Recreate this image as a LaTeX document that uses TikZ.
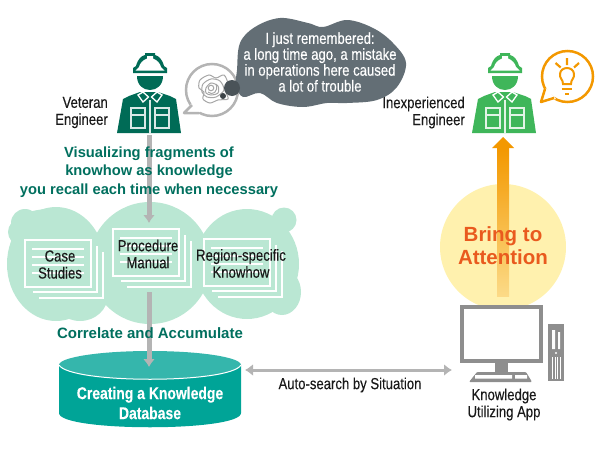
\documentclass[tikz,border=0pt]{standalone}
\usepackage{fontspec}
\usepackage{tikz}
\usetikzlibrary{arrows.meta}
\setmainfont{Liberation Sans}
\newfontfamily\condfont[FakeStretch=0.82,FakeBold=0.25]{Liberation Sans}
\definecolor{vetgreen}{HTML}{006B56}
\definecolor{newgreen}{HTML}{3FB65A}
\definecolor{mintcloud}{HTML}{BAE7D3}
\definecolor{slatecloud}{HTML}{636E75}
\definecolor{linegray}{HTML}{B4B4B4}
\definecolor{pcgray}{HTML}{8E8E8E}
\definecolor{alertorange}{HTML}{F39800}
\definecolor{glowyellow}{HTML}{FFF1AE}
\definecolor{dbside}{HTML}{00A497}
\definecolor{dbtopc}{HTML}{35B6AC}
\definecolor{heading}{HTML}{006F5E}
\definecolor{bringred}{HTML}{E95A1E}
\tikzset{
  namelabel/.style={font=\condfont\fontsize{16}{17}\selectfont,align=center,inner sep=0,text=black!90},
  bluntlabel/.style={font=\bfseries\fontsize{14.7}{18.5}\selectfont,align=center,inner sep=0,text=heading},
  grayarrow/.style={>={Latex[width=12,length=8]},->,line width=5,draw=linegray},
  sheet/.style={draw=white,line width=2,fill=none},
  scribble/.style={draw=gray!70,line width=1},
}
\begin{document}
\begin{tikzpicture}[x=1pt,y=-1pt]
\useasboundingbox (0,0) rectangle (600,450);

% green cloud behind the documents
\fill[mintcloud] (56,264) ellipse (49 and 57);
\fill[mintcloud] (150,263) circle (61);
\fill[mintcloud] (247,264) ellipse (52 and 55);
\fill[mintcloud] (50,232) ellipse (42 and 23);
\fill[mintcloud] (25,223) circle (14);
\fill[mintcloud] (284,220) circle (12.5);
\fill[mintcloud] (282,292) ellipse (19 and 23);
\fill[mintcloud] (80,295) ellipse (28 and 26);

% document stacks
\foreach \sx/\sy in {0/0,88/-11,179/-1}{
  \foreach \ly in {249,257,265,273}
    \draw[white,line width=2] (32+\sx,\ly+\sy) -- (84+\sx,\ly+\sy);
  \draw[sheet] (25+\sx,240+\sy) rectangle (91+\sx,287+\sy);
  \draw[sheet] (97+\sx,246+\sy) -- (97+\sx,292+\sy) -- (33+\sx,292+\sy);
  \draw[sheet] (103+\sx,252+\sy) -- (103+\sx,298+\sy) -- (39+\sx,298+\sy);
}
\node[namelabel] (casestudies) at (60,264.5) {Case\\Studies};
\node[namelabel] (procedure) at (148,254) {Procedure\\Manual};
\node[namelabel] (region) at (241,263.5) {Region-specific\\Knowhow};

% engineers
\foreach \ex/\ec in {0/vetgreen,355/newgreen}{
\begin{scope}[shift={(\ex,0)}]
  \fill[\ec] (117,133) -- (123,99) -- (129,96) -- (140,92) -- (158,92) -- (170,96) -- (176,99) -- (181,133) -- cycle;
  \fill[\ec] (137,76) -- (163,76) .. controls (163,85) and (157,90) .. (150,90) .. controls (143,90) and (137,85) .. (137,76) -- cycle;
  \fill[\ec] (133,73) -- (133,68) -- (136,66) .. controls (138,59) and (141,56) .. (145,55) -- (145,53) -- (155,53) -- (155,55) .. controls (159,56) and (162,59) .. (164,66) -- (167,68) -- (167,73) -- cycle;
  \fill[white] (135.5,70.5) -- (139,67) .. controls (140,63) and (143,60) .. (147,58.5) -- (147,56) -- (153,56) -- (153,58.5) .. controls (157,60) and (160,63) .. (161,67) -- (164.5,70.5) -- cycle;
  \draw[white,line width=1.3,fill=\ec] (138,95) -- (143,92) -- (148.5,97) -- (143,102) -- cycle;
  \draw[white,line width=1.3,fill=\ec] (162,95) -- (157,92) -- (151.5,97) -- (157,102) -- cycle;
  \draw[white!85!\ec,line width=1.1] (150,100) -- (150,133);
  \draw[white!85!\ec,line width=1.1] (131,108) rectangle (145,128) (131,115) -- (145,115);
  \draw[white!85!\ec,line width=1.1] (155,108) rectangle (169,128) (155,115) -- (169,115);
\end{scope}
}
\node[namelabel,align=right,anchor=east] (veteran) at (108,112.5) {Veteran\\Engineer};
\node[namelabel,align=right,anchor=east] (inexperienced) at (465,112.5) {Inexperienced\\Engineer};

% thought bubble with the rose
\draw[linegray,line width=2.5] (212,90) circle (26);
\fill[white] (191,104) -- (184,113) -- (200,112) -- (203,108) -- cycle;
\draw[linegray,line width=2.5,line join=round] (192,105) -- (184,113) -- (199,113);
\draw[scribble] plot[smooth cycle,tension=0.5] coordinates {(200,80) (209,75) (216,78) (224,75) (228,84) (226,92) (228,99) (218,100) (210,103) (203,99) (204,92) (199,88)};
\draw[scribble] plot[smooth cycle] coordinates {(203,84) (211,79) (220,81) (224,90) (216,97) (207,97) (202,92)};
\draw[scribble] plot[smooth cycle] coordinates {(206,88) (211,83) (218,86) (218,93) (211,95) (206,93)};
\draw[scribble] (211,88) circle (2.8);
\draw[scribble] (208,92) .. controls (212,96) and (219,92) .. (216,84);

% speech cloud
\fill[slatecloud] plot[smooth cycle,tension=0.6] coordinates {(237,70) (240,43) (255,27) (280,18) (308,23) (323,27) (347,20) (373,28) (393,43) (406,63) (397,87) (377,100) (347,103) (327,103) (303,107) (277,103) (260,93) (243,97) (236,85)};
\fill[slatecloud!75!black] (232,88) circle (8);
\fill[slatecloud!60!black] (223,96) circle (3);
\node[namelabel,text=white,font=\condfont\fontsize{16}{14}\selectfont] (memory) at (320,62) {I just remembered:\\a long time ago, a mistake\\in operations here caused\\a lot of trouble};

% bubble with the lamp
\draw[alertorange,line width=2.5] (567.5,76.5) circle (25.5);
\fill[white] (546,88) -- (541,102) -- (556,99) -- cycle;
\draw[alertorange,line width=2.5,line join=round] (545,89) -- (541,102) -- (554,98);
\draw[alertorange,line width=2,fill=white] (563,84) .. controls (563,79) and (559.5,79) .. (560,74) .. controls (560.5,66) and (573.5,66) .. (574,74) .. controls (574.5,79) and (571,79) .. (571,84) -- cycle;
\draw[alertorange,line width=2] (562,89) -- (572,89) (565,94) -- (569,94);
\draw[alertorange,line width=2.2] (567,58) -- (567,65) (555.5,63) -- (560.7,67.5) (579,63) -- (574,67.5);

% attention glow
\fill[glowyellow] (503,247) circle (63);
\shade[top color=alertorange,bottom color=glowyellow!70!alertorange!90!white] (497,148) rectangle (509,296);
\fill[alertorange] (503,137) -- (514,148) -- (492,148) -- cycle;
\node[font=\bfseries\fontsize{20.5}{23}\selectfont,align=center,inner sep=0,text=bringred] (bring) at (503,245.5) {Bring to\\Attention};

% computer
\fill[pcgray] (460,305) rectangle (543,363);
\fill[white] (464,309) rectangle (539,359);
\fill[pcgray] (495,363) rectangle (508,372);
\fill[pcgray,rounded corners=1] (469,382) -- (477,372) -- (526,372) -- (532,382) -- cycle;
\fill[white] (475,375) rectangle (512,378.5) (515,375) rectangle (527,378.5);
\fill[pcgray] (548,324) rectangle (564,381);
\fill[white] (552,330) rectangle (555,349) (558,332) rectangle (560,349);
\fill[white] (556,353) circle (1.2);
\foreach \bx in {552.5,555,557.5,560}
  \draw[white,line width=0.7] (\bx,357) -- (\bx,379);
\node[namelabel] (utilizing) at (504,404.5) {Knowledge\\Utilizing App};

% database
\fill[dbside] (59,365) -- (59,413) .. controls (59,432) and (241,432) .. (241,413) -- (241,365) -- cycle;
\fill[dbtopc] (150,365) ellipse (91 and 14);
\draw[white,line width=1] (59,365) .. controls (70,384) and (230,384) .. (241,365);
\node[namelabel,text=white,font=\condfont\bfseries\fontsize{17}{20}\selectfont] (database) at (150,403) {Creating a Knowledge\\Database};

% connectors
\coordinate (vetbase) at (149,135);
\coordinate (stackin) at (149,223);
\coordinate (stackout) at (149,292);
\coordinate (dbtop) at (149,367);
\coordinate (dbedge) at (245,370);
\coordinate (pcedge) at (452,370);
\draw[grayarrow] (vetbase) -- (stackin);
\draw[grayarrow] (stackout) -- (dbtop);
\draw[grayarrow,<->,line width=3] (dbedge) -- (pcedge);

\node[bluntlabel] (visualizing) at (149,172) {Visualizing fragments of\\knowhow as knowledge\\you recall each time when necessary};
\node[bluntlabel,font=\bfseries\fontsize{15}{18}\selectfont] (correlate) at (150,333) {Correlate and Accumulate};
\node[namelabel] (autosearch) at (350,385) {Auto-search by Situation};

\end{tikzpicture}
\end{document}
